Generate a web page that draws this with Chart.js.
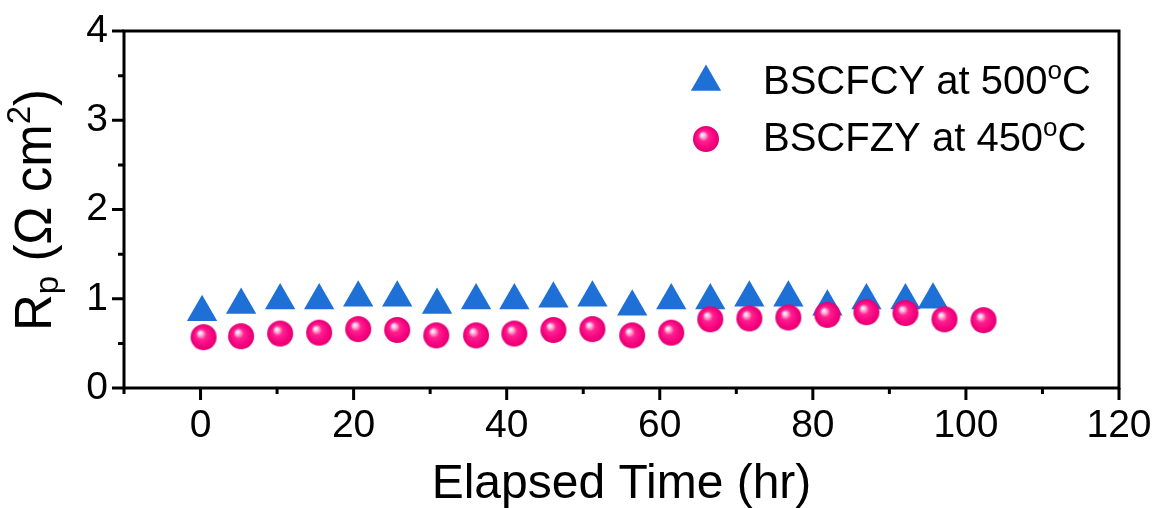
<!DOCTYPE html>
<html>
<head>
<meta charset="utf-8">
<script src="https://cdn.jsdelivr.net/npm/chart.js@4.4.0/dist/chart.umd.min.js"></script>
<style>
  body { margin: 0; background: #fff; }
  #wrap { width: 1156px; height: 508px; }
</style>
</head>
<body>
<div id="wrap"><canvas id="chart" width="1156" height="508"></canvas></div>
<script>
// data
const bscfcyTime = [0.2, 5.3, 10.4, 15.5, 20.6, 25.7, 30.9, 36.0, 41.0, 46.1, 51.2, 56.4, 61.5, 66.6, 71.7, 76.8, 81.9, 87.0, 92.1, 95.7];
const bscfcyRp = [0.85, 0.93, 0.98, 0.98, 1.01, 1.01, 0.93, 0.98, 0.98, 1.00, 1.01, 0.91, 0.98, 0.98, 1.01, 1.01, 0.91, 0.98, 0.98, 0.99];
const bscfzyTime = [0.4, 5.3, 10.4, 15.5, 20.6, 25.7, 30.8, 36.0, 41.0, 46.1, 51.2, 56.4, 61.5, 66.6, 71.7, 76.8, 81.9, 87.0, 92.1, 97.2, 102.3];
const bscfzyRp = [0.57, 0.58, 0.61, 0.62, 0.66, 0.65, 0.59, 0.59, 0.61, 0.65, 0.66, 0.59, 0.62, 0.77, 0.78, 0.79, 0.82, 0.85, 0.84, 0.77, 0.76];

const xTicks = [0, 20, 40, 60, 80, 100, 120];
const xMinorTicks = [-10, 10, 30, 50, 70, 90, 110];
const yTicks = [0, 1, 2, 3, 4];
const yMinorTicks = [0.5, 1.5, 2.5, 3.5];

const seriesNames = ['BSCFCY at 500', 'BSCFZY at 450'];

const BLUE = 'rgb(30,112,214)';
const FONT = '"Liberation Sans", Arial, sans-serif';

// shaded pink ball used as point style
function makeBall(r) {
  const c = document.createElement('canvas');
  c.width = c.height = r * 2 + 2;
  const g = c.getContext('2d');
  const cx = r + 1, cy = r + 1;
  const grad = g.createRadialGradient(cx - r * 0.3, cy - r * 0.35, 0, cx, cy, r);
  grad.addColorStop(0, '#ffffff');
  grad.addColorStop(0.16, '#ffc0e0');
  grad.addColorStop(0.4, '#ff2090');
  grad.addColorStop(0.8, '#f5007d');
  grad.addColorStop(1, '#e00072');
  g.fillStyle = grad;
  g.beginPath();
  g.arc(cx, cy, r, 0, Math.PI * 2);
  g.fill();
  return c;
}
const ball = makeBall(13);

function toPoints(xs, ys) {
  return xs.map((x, i) => ({ x: x, y: ys[i] }));
}

// draws text pieces with sub/superscripts, starting at x
function drawRich(ctx, parts, x, y) {
  parts.forEach(p => {
    ctx.font = p.size + 'px ' + FONT;
    ctx.fillText(p.t, x, y + (p.dy || 0));
    x += ctx.measureText(p.t).width;
  });
}
function richWidth(ctx, parts) {
  let w = 0;
  parts.forEach(p => {
    ctx.font = p.size + 'px ' + FONT;
    w += ctx.measureText(p.t).width;
  });
  return w;
}

const framePlugin = {
  id: 'frame',
  beforeDatasetsDraw(chart) {
    const ctx = chart.ctx;
    const a = chart.chartArea;
    const xs = chart.scales.x, ys = chart.scales.y;
    ctx.save();
    ctx.strokeStyle = '#000';
    ctx.lineWidth = 3;
    ctx.strokeRect(a.left, a.top, a.right - a.left, a.bottom - a.top);
    ctx.beginPath();
    xTicks.forEach(v => {
      const px = xs.getPixelForValue(v);
      ctx.moveTo(px, a.bottom); ctx.lineTo(px, a.bottom + 12);
    });
    xMinorTicks.forEach(v => {
      const px = xs.getPixelForValue(v);
      ctx.moveTo(px, a.bottom); ctx.lineTo(px, a.bottom + 6);
    });
    yTicks.forEach(v => {
      const py = ys.getPixelForValue(v);
      ctx.moveTo(a.left, py); ctx.lineTo(a.left - 12, py);
    });
    yMinorTicks.forEach(v => {
      const py = ys.getPixelForValue(v);
      ctx.moveTo(a.left, py); ctx.lineTo(a.left - 6, py);
    });
    ctx.stroke();
    ctx.restore();
  },
  afterDraw(chart) {
    const ctx = chart.ctx;
    ctx.save();
    ctx.fillStyle = '#000';
    ctx.textBaseline = 'middle';

    // y axis title: R_p (Ω cm^2)
    const yTitle = [
      { t: 'R', size: 51 },
      { t: 'p', size: 33, dy: 12 },
      { t: ' (\u03A9 cm', size: 51 },
      { t: '2', size: 33, dy: -16 },
      { t: ')', size: 51 }
    ];
    ctx.translate(37, 210);
    ctx.rotate(-Math.PI / 2);
    drawRich(ctx, yTitle, -richWidth(ctx, yTitle) / 2, 0);
    ctx.setTransform(1, 0, 0, 1, 0, 0);

    // legend
    const rows = [82, 139];
    const lx = 706;
    ctx.fillStyle = BLUE;
    ctx.beginPath();
    const r = 17.5;
    ctx.moveTo(lx, rows[0] - r);
    ctx.lineTo(lx + r * Math.sin(2 * Math.PI / 3), rows[0] + r / 2);
    ctx.lineTo(lx - r * Math.sin(2 * Math.PI / 3), rows[0] + r / 2);
    ctx.closePath();
    ctx.fill();
    ctx.drawImage(ball, lx - ball.width / 2, rows[1] - ball.height / 2);

    ctx.fillStyle = '#000';
    seriesNames.forEach((name, i) => {
      drawRich(ctx, [
        { t: name, size: 40 },
        { t: 'o', size: 26, dy: -11 },
        { t: 'C', size: 40 }
      ], 763, rows[i] + 1);
    });
    ctx.restore();
  }
};

const ctx = document.getElementById('chart').getContext('2d');
new Chart(ctx, {
  type: 'scatter',
  data: {
    datasets: [
      {
        label: seriesNames[1],
        data: toPoints(bscfzyTime, bscfzyRp),
        pointStyle: ball,
        order: 0
      },
      {
        label: seriesNames[0],
        data: toPoints(bscfcyTime, bscfcyRp),
        pointStyle: 'triangle',
        pointRadius: 17.5,
        backgroundColor: BLUE,
        borderColor: BLUE,
        borderWidth: 0,
        order: 1
      }
    ]
  },
  plugins: [framePlugin],
  options: {
    responsive: false,
    animation: false,
    events: [],
    layout: { padding: { top: 31, right: 37, left: 0, bottom: 0 } },
    plugins: {
      legend: { display: false },
      tooltip: { enabled: false }
    },
    scales: {
      x: {
        type: 'linear',
        min: -10,
        max: 120,
        afterBuildTicks: s => { s.ticks = xTicks.map(v => ({ value: v })); },
        afterFit: s => { s.height = 120; s.paddingLeft = 0; s.paddingRight = 0; },
        grid: { display: false, drawTicks: false },
        border: { display: false },
        ticks: { color: '#000', padding: 15, font: { family: FONT, size: 39 } },
        title: {
          display: true,
          text: 'Elapsed Time (hr)',
          color: '#000',
          padding: { top: 0, bottom: -6 },
          font: { family: FONT, size: 48 }
        }
      },
      y: {
        min: 0,
        max: 4,
        afterBuildTicks: s => { s.ticks = yTicks.map(v => ({ value: v })); },
        afterFit: s => { s.width = 124; s.paddingTop = 0; s.paddingBottom = 0; },
        grid: { display: false, drawTicks: false },
        border: { display: false },
        ticks: { color: '#000', padding: 16, font: { family: FONT, size: 39 } }
      }
    }
  }
});
</script>
</body>
</html>
